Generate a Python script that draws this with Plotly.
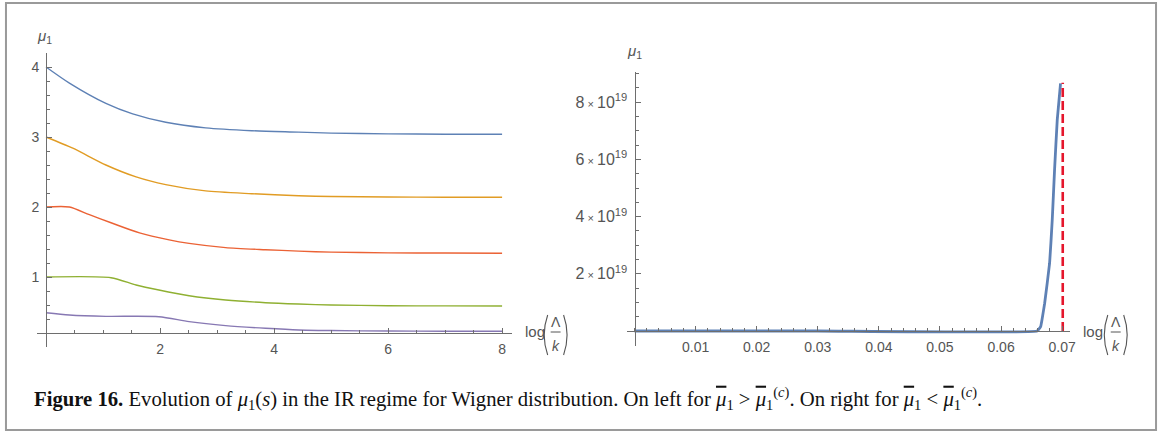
import plotly.graph_objects as go

W, H = 1168, 432

# ---------------- data ----------------
# left panel: mu_1 vs log(Lambda/k)
blue_x = [0, 0.41, 1.05, 1.52, 2.10, 2.80, 3.61, 4.43, 5, 6, 7, 8]
blue_y = [4.0, 3.77, 3.48, 3.33, 3.21, 3.13, 3.09, 3.07, 3.055, 3.045, 3.04, 3.04]

orange_x = [0, 0.47, 1.05, 1.58, 2.10, 2.80, 3.61, 4.43, 5, 6, 7, 8]
orange_y = [3.0, 2.84, 2.60, 2.43, 2.32, 2.23, 2.19, 2.16, 2.15, 2.143, 2.14, 2.14]

red_x = [0, 0.41, 0.76, 1.14, 1.64, 2.16, 2.51, 3.15, 3.85, 4.43, 5, 6, 7, 8]
red_y = [2.0, 2.0, 1.89, 1.775, 1.63, 1.53, 1.48, 1.42, 1.39, 1.37, 1.355, 1.345, 1.342, 1.34]

green_x = [0, 1.14, 1.58, 1.98, 2.51, 3.15, 3.85, 4.43, 5, 6, 7, 8]
green_y = [1.0, 0.99, 0.886, 0.814, 0.733, 0.671, 0.633, 0.614, 0.60, 0.59, 0.587, 0.585]

purple_x = [0, 0.41, 1.05, 1.98, 2.51, 3.15, 3.85, 4.43, 5, 6, 7, 8]
purple_y = [0.49, 0.457, 0.438, 0.433, 0.362, 0.305, 0.267, 0.243, 0.235, 0.228, 0.225, 0.224]

left_xticks = [2, 4, 6, 8]
left_yticks = [1, 2, 3, 4]

# right panel: blow-up of mu_1
right_x = [0, 0.030, 0.0659, 0.06648, 0.06669, 0.06714, 0.06795, 0.06838, 0.06876, 0.0692, 0.06974]
right_y = [0, 0, 0, 0.15e19, 0.38e19, 0.97e19, 2.37e19, 3.88e19, 5.63e19, 7.38e19, 8.66e19]
pole_x = [0.0701, 0.0701]
pole_y = [0, 8.68e19]

right_xticks = [0.01, 0.02, 0.03, 0.04, 0.05, 0.06, 0.07]
right_xlabels = ["0.01", "0.02", "0.03", "0.04", "0.05", "0.06", "0.07"]
right_yticks = [2e19, 4e19, 6e19, 8e19]
right_ylabels = ["2<span style='font-size:11px'> \u00d7 </span>10<sup>19</sup>",
                 "4<span style='font-size:11px'> \u00d7 </span>10<sup>19</sup>",
                 "6<span style='font-size:11px'> \u00d7 </span>10<sup>19</sup>",
                 "8<span style='font-size:11px'> \u00d7 </span>10<sup>19</sup>"]

MUBAR = "<span style='text-decoration:overline'><i>\u03bc</i></span>"
caption = ("<b>Figure 16.</b> Evolution of <i>\u03bc</i><sub>1</sub>(<i>s</i>) in the IR regime "
           "for Wigner distribution. On left for " + MUBAR + "<sub>1</sub> &gt; "
           + MUBAR + "<sub>1</sub><sup>(<i>c</i>)</sup>. On right for "
           + MUBAR + "<sub>1</sub> &lt; " + MUBAR + "<sub>1</sub><sup>(<i>c</i>)</sup>.")

# ---------------- helpers ----------------
def PX(x):
    return x / W

def PY(y):
    return 1 - y / H

AX = "#6e6e6e"
TXT = "#555555"
TF = dict(family="Liberation Sans, Arial, sans-serif", size=14, color=TXT)
TF2 = dict(family="Liberation Sans, Arial, sans-serif", size=16, color=TXT)

fig = go.Figure()

cols = ["#5E81B5", "#E19C24", "#EB6235", "#8FB032", "#8778B3"]
for (xs, ys), c in zip([(blue_x, blue_y), (orange_x, orange_y), (red_x, red_y),
                        (green_x, green_y), (purple_x, purple_y)], cols):
    fig.add_trace(go.Scatter(x=xs, y=ys, mode="lines", xaxis="x", yaxis="y",
                             line=dict(color=c, width=1.4, shape="spline", smoothing=0.7),
                             showlegend=False, hoverinfo="skip"))

fig.add_trace(go.Scatter(x=right_x, y=right_y, mode="lines", xaxis="x2", yaxis="y2",
                         line=dict(color="#5E81B5", width=2.8, shape="spline", smoothing=0.3),
                         showlegend=False, hoverinfo="skip"))
fig.add_trace(go.Scatter(x=pole_x, y=pole_y, mode="lines", xaxis="x2", yaxis="y2",
                         line=dict(color="#E5162C", width=2.6, dash="9px,4px"),
                         showlegend=False, hoverinfo="skip"))

common = dict(showline=True, linecolor=AX, linewidth=1, ticks="inside", tickcolor=AX,
              tickwidth=1, showgrid=False, zeroline=False, fixedrange=True)

fig.update_layout(
    width=W, height=H, margin=dict(l=0, r=0, t=0, b=0),
    paper_bgcolor="white", plot_bgcolor="rgba(0,0,0,0)",
    xaxis=dict(domain=[PX(37.1), PX(515)], range=[-0.16, 8.18], anchor="free",
               position=PY(333), tickmode="array", tickvals=left_xticks, ticklen=5,
               ticklabelstandoff=3, tickfont=TF,
               minor=dict(dtick=0.5, tick0=0, ticks="inside", ticklen=3, tickcolor=AX),
               **common),
    yaxis=dict(domain=[PY(347), PY(53)], range=[0, 4.2], anchor="free",
               position=PX(46.3), tickmode="array", tickvals=left_yticks, ticklen=5,
               ticklabelstandoff=4, tickfont=TF,
               minor=dict(dtick=0.2, tick0=0, ticks="inside", ticklen=3, tickcolor=AX),
               **common),
    xaxis2=dict(domain=[PX(629.8), PX(1075.6)], range=[-0.0013, 0.0713], anchor="free",
                position=PY(331), tickmode="array", tickvals=right_xticks,
                ticktext=right_xlabels, ticklen=5, ticklabelstandoff=3, tickfont=TF,
                minor=dict(dtick=0.002, tick0=0, ticks="inside", ticklen=3, tickcolor=AX),
                **common),
    yaxis2=dict(domain=[PY(345.6), PY(71.6)], range=[-0.51e19, 9.07e19], anchor="free",
                position=PX(637.8), tickmode="array", tickvals=right_yticks,
                ticktext=right_ylabels, ticklen=5, ticklabelstandoff=4, tickfont=TF2,
                minor=dict(dtick=0.5e19, tick0=0, ticks="inside", ticklen=3, tickcolor=AX),
                **common),
)

ann = []
def text(x, y, s, size=13, anchor="center", family=None, color=TXT):
    ann.append(dict(x=PX(x), y=PY(y), xref="paper", yref="paper", text=s, showarrow=False,
                    xanchor=anchor, yanchor="middle",
                    font=dict(family=family or "Liberation Sans, Arial, sans-serif",
                              size=size, color=color)))

# y-axis titles
text(45, 36, "<i>\u03bc</i><sub>1</sub>", size=15)
text(638, 52, "<i>\u03bc</i><sub>1</sub>", size=15)

shapes = []
def xlabel(xlog, xfrac):
    text(xlog, 331, "log", size=15, anchor="left")
    text(xfrac, 322, "\u039b", size=14)
    text(xfrac, 346, "<i>k</i>", size=14)
    shapes.append(dict(type="line", xref="paper", yref="paper",
                       x0=PX(xfrac - 5), x1=PX(xfrac + 5), y0=PY(332), y1=PY(332),
                       line=dict(color=TXT, width=1)))
    # big parentheses
    lx, rx = xfrac - 11, xfrac + 11
    shapes.append(dict(type="path", xref="paper", yref="paper",
                       path=f"M {PX(lx+3)} {PY(315)} Q {PX(lx-4)} {PY(335)} {PX(lx+3)} {PY(355)}",
                       line=dict(color=TXT, width=1.1)))
    shapes.append(dict(type="path", xref="paper", yref="paper",
                       path=f"M {PX(rx-3)} {PY(315)} Q {PX(rx+4)} {PY(335)} {PX(rx-3)} {PY(355)}",
                       line=dict(color=TXT, width=1.1)))

xlabel(526, 558.5)
xlabel(1087, 1121.5)

# caption
ann.append(dict(x=PX(32), y=PY(398), xref="paper", yref="paper", text=caption,
                showarrow=False, xanchor="left", yanchor="middle",
                font=dict(family="Liberation Serif, Times New Roman, serif", size=20.7,
                          color="#111111")))

# frame
shapes.append(dict(type="rect", xref="paper", yref="paper",
                   x0=PX(6), x1=PX(1162), y0=PY(430), y1=PY(3),
                   line=dict(color="#9a9a9a", width=2)))

fig.update_layout(annotations=ann, shapes=shapes)

fig.write_html("out.html", config={"displayModeBar": False},
               post_script="document.body.style.margin='0';")
